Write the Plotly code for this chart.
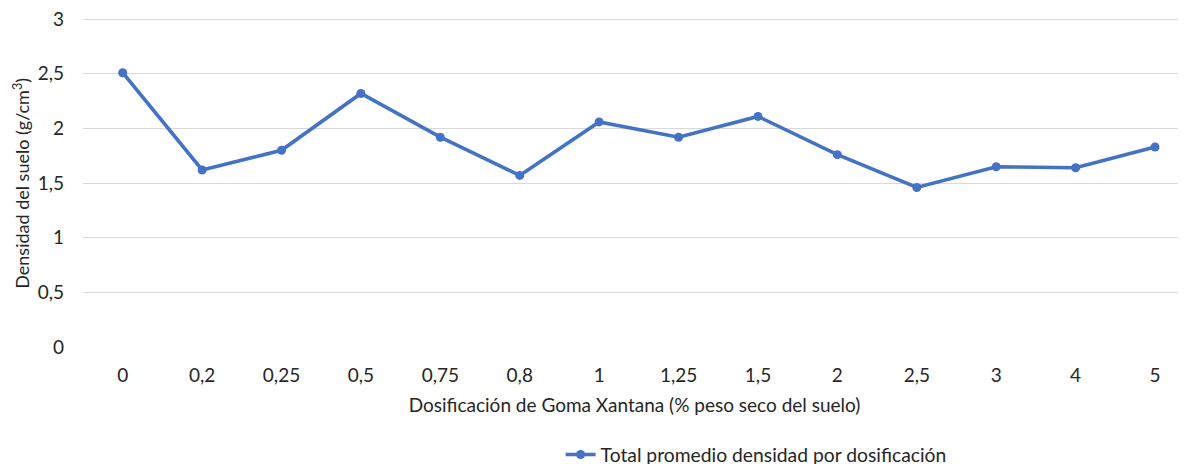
import plotly.graph_objects as go

categories = ["0", "0,2", "0,25", "0,5", "0,75", "0,8", "1", "1,25", "1,5", "2", "2,5", "3", "4", "5"]
densidad = [2.51, 1.62, 1.80, 2.32, 1.92, 1.57, 2.06, 1.92, 2.11, 1.76, 1.46, 1.65, 1.64, 1.83]
y_ticks = [0, 0.5, 1, 1.5, 2, 2.5, 3]
y_tick_labels = ["0", "0,5", "1", "1,5", "2", "2,5", "3"]
series_name = "Total promedio densidad por dosificación"
x_title = "Dosificación de Goma Xantana (% peso seco del suelo)"
y_title = "Densidad del suelo (g/cm<sup>3</sup>)"

FONT = "Lato"
FS = 19
TXT = "#262626"
fig = go.Figure()
fig.add_trace(go.Scatter(
    x=categories, y=densidad, mode="lines+markers", name=series_name,
    line=dict(color="#4472C4", width=3.6),
    marker=dict(color="#4472C4", size=9),
))
fig.add_annotation(text=y_title, xref="paper", yref="paper", x=-0.0555, y=0.497,
                   xanchor="center", yanchor="middle", textangle=-90, showarrow=False,
                   font=dict(family=FONT, size=18, color=TXT))
fig.update_layout(
    width=1186, height=464,
    margin=dict(l=75, r=8, t=9, b=125, autoexpand=False),
    paper_bgcolor="white", plot_bgcolor="white",
    font=dict(family=FONT, size=FS, color=TXT),
    showlegend=True,
    legend=dict(orientation="h", x=0.433, xanchor="left", y=-0.327, yanchor="middle",
                font=dict(family=FONT, size=19.3, color=TXT), itemwidth=30),
    xaxis=dict(type="category", range=[-0.5, 13.39], showgrid=False, showline=False,
               ticks="", automargin=False, ticklabelstandoff=15,
               tickfont=dict(family=FONT, size=FS, color=TXT),
               title=dict(text=x_title, font=dict(family=FONT, size=FS, color=TXT), standoff=13)),
    yaxis=dict(range=[0, 3.02], tickvals=y_ticks, ticktext=y_tick_labels,
               showgrid=True, gridcolor="#D9D9D9", gridwidth=1.3, zeroline=False,
               showline=False, ticks="", ticklabelstandoff=18, automargin=False,
               ticklabeloverflow="allow",
               tickfont=dict(family=FONT, size=FS, color=TXT)),
)
fig.write_html("out.html")
